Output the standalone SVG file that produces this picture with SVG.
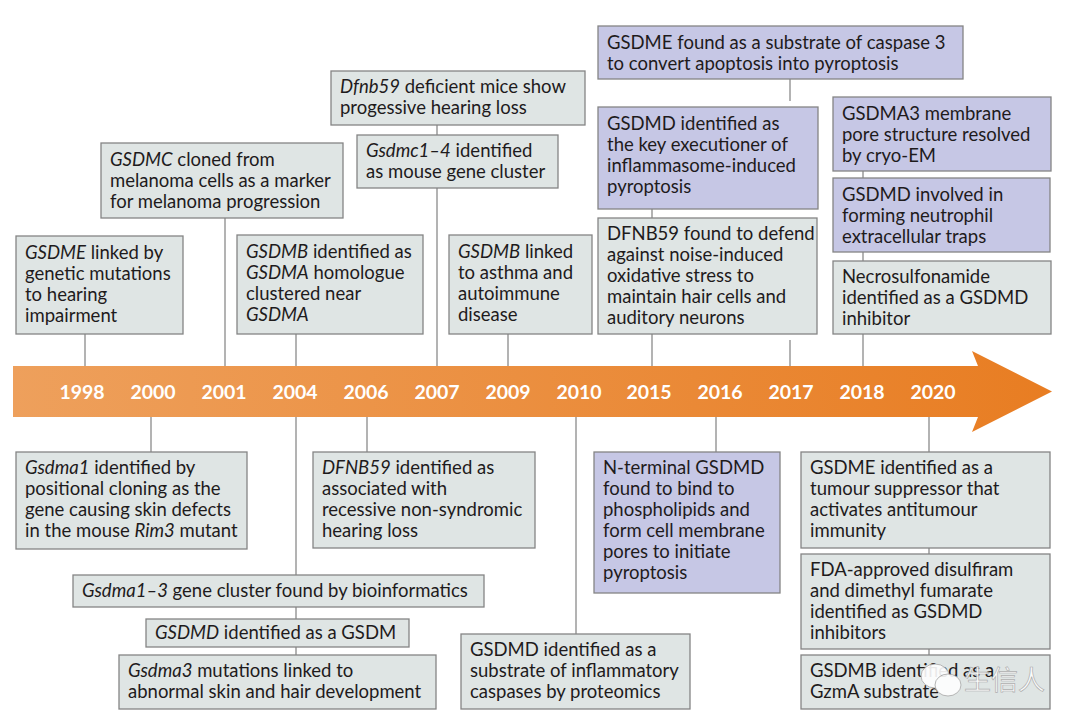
<svg xmlns="http://www.w3.org/2000/svg" width="1080" height="728" viewBox="0 0 1080 728">
<style>
.g{fill:#dfe5e4;stroke:#858585;stroke-width:1.3}
.p{fill:#c6c7e5;stroke:#858585;stroke-width:1.3}
.t{font-family:Lato,"Liberation Sans",sans-serif;font-size:18.5px;fill:#1e1b1c}
.i{font-style:italic}
.yr{font-family:Lato,"Liberation Sans",sans-serif;font-size:19.5px;font-weight:bold;fill:#ffffff;text-anchor:middle}
.c line{stroke:#8a8a8a;stroke-width:1.3}
.wm{font-family:"Noto Sans CJK SC",sans-serif;font-size:27px;fill:#ffffff;stroke:#a8a8a8;stroke-width:0.7}
</style>
<defs>
<linearGradient id="ag" x1="0" y1="0" x2="1" y2="0">
<stop offset="0" stop-color="#eea05c"/>
<stop offset="1" stop-color="#e87d22"/>
</linearGradient>
</defs>
<rect width="1080" height="728" fill="#ffffff"/>

<g id="timeline">
<polygon points="13,366 978,366 972,351 1052,391.5 972,432 978,417 13,417" fill="url(#ag)"/>
<text class="yr" x="82" y="399">1998</text>
<text class="yr" x="153" y="399">2000</text>
<text class="yr" x="224" y="399">2001</text>
<text class="yr" x="295" y="399">2004</text>
<text class="yr" x="366" y="399">2006</text>
<text class="yr" x="437" y="399">2007</text>
<text class="yr" x="508" y="399">2009</text>
<text class="yr" x="579" y="399">2010</text>
<text class="yr" x="649" y="399">2015</text>
<text class="yr" x="720" y="399">2016</text>
<text class="yr" x="791" y="399">2017</text>
<text class="yr" x="862" y="399">2018</text>
<text class="yr" x="933" y="399">2020</text>
</g>

<g id="connectors" class="c">
<line x1="85" y1="334" x2="85" y2="366"/>
<line x1="225" y1="218" x2="225" y2="366"/>
<line x1="296" y1="334" x2="296" y2="366"/>
<line x1="437" y1="125" x2="437" y2="135"/>
<line x1="437" y1="188" x2="437" y2="366"/>
<line x1="508" y1="334" x2="508" y2="366"/>
<line x1="790" y1="79" x2="790" y2="101"/>
<line x1="652" y1="209" x2="652" y2="218"/>
<line x1="652" y1="334" x2="652" y2="366"/>
<line x1="790" y1="340" x2="790" y2="366"/>
<line x1="863" y1="171" x2="863" y2="178"/>
<line x1="863" y1="252" x2="863" y2="261"/>
<line x1="863" y1="334" x2="863" y2="366"/>
<line x1="151" y1="417" x2="151" y2="452"/>
<line x1="296" y1="417" x2="296" y2="575"/>
<line x1="296" y1="607" x2="296" y2="619"/>
<line x1="296" y1="647" x2="296" y2="655"/>
<line x1="367" y1="417" x2="367" y2="452"/>
<line x1="576" y1="417" x2="576" y2="634"/>
<line x1="716" y1="417" x2="716" y2="452"/>
<line x1="929" y1="417" x2="929" y2="452"/>
<line x1="929" y1="548" x2="929" y2="554"/>
<line x1="929" y1="649" x2="929" y2="655"/>
</g>

<g id="n1998">
<rect class="g" x="16" y="236" width="167" height="98"/>
<text class="t" x="25" y="259"><tspan class="i">GSDME</tspan> linked by<tspan x="25" dy="21">genetic mutations</tspan><tspan x="25" dy="21">to hearing</tspan><tspan x="25" dy="21">impairment</tspan></text>
</g>
<g id="n2001">
<rect class="g" x="101" y="143" width="242" height="75"/>
<text class="t" x="110" y="166"><tspan class="i">GSDMC</tspan> cloned from<tspan x="110" dy="21">melanoma cells as a marker</tspan><tspan x="110" dy="21">for melanoma progression</tspan></text>
</g>
<g id="n2004a">
<rect class="g" x="237" y="235" width="186" height="99"/>
<text class="t" x="246" y="258"><tspan class="i">GSDMB</tspan> identified as<tspan x="246" dy="21" class="i">GSDMA</tspan><tspan> homologue</tspan><tspan x="246" dy="21">clustered near</tspan><tspan x="246" dy="21" class="i">GSDMA</tspan></text>
</g>
<g id="n2007a">
<rect class="g" x="331" y="71" width="254" height="54"/>
<text class="t" x="340" y="93"><tspan class="i">Dfnb59</tspan> deficient mice show<tspan x="340" dy="21">progessive hearing loss</tspan></text>
</g>
<g id="n2007b">
<rect class="g" x="357" y="135" width="201" height="53"/>
<text class="t" x="366" y="157"><tspan class="i">Gsdmc1–4</tspan> identified<tspan x="366" dy="21">as mouse gene cluster</tspan></text>
</g>
<g id="n2009">
<rect class="g" x="449" y="235" width="143" height="99"/>
<text class="t" x="458" y="258"><tspan class="i">GSDMB</tspan> linked<tspan x="458" dy="21">to asthma and</tspan><tspan x="458" dy="21">autoimmune</tspan><tspan x="458" dy="21">disease</tspan></text>
</g>
<g id="n2017a">
<rect class="p" x="598" y="26" width="365" height="53"/>
<text class="t" x="607" y="49">GSDME found as a substrate of caspase 3<tspan x="607" dy="21">to convert apoptosis into pyroptosis</tspan></text>
</g>
<g id="n2015a">
<rect class="p" x="598" y="107" width="220" height="102"/>
<text class="t" x="607" y="130">GSDMD identified as<tspan x="607" dy="21">the key executioner of</tspan><tspan x="607" dy="21">inflammasome-induced</tspan><tspan x="607" dy="21">pyroptosis</tspan></text>
</g>
<g id="n2015b">
<rect class="g" x="598" y="218" width="219" height="116"/>
<text class="t" x="607" y="240">DFNB59 found to defend<tspan x="607" dy="21">against noise-induced</tspan><tspan x="607" dy="21">oxidative stress to</tspan><tspan x="607" dy="21">maintain hair cells and</tspan><tspan x="607" dy="21">auditory neurons</tspan></text>
</g>
<g id="n2018a">
<rect class="p" x="833" y="97" width="218" height="74"/>
<text class="t" x="842" y="120">GSDMA3 membrane<tspan x="842" dy="21">pore structure resolved</tspan><tspan x="842" dy="21">by cryo-EM</tspan></text>
</g>
<g id="n2018b">
<rect class="p" x="833" y="178" width="217" height="74"/>
<text class="t" x="842" y="201">GSDMD involved in<tspan x="842" dy="21">forming neutrophil</tspan><tspan x="842" dy="21">extracellular traps</tspan></text>
</g>
<g id="n2018c">
<rect class="g" x="833" y="261" width="218" height="73"/>
<text class="t" x="842" y="283">Necrosulfonamide<tspan x="842" dy="21">identified as a GSDMD</tspan><tspan x="842" dy="21">inhibitor</tspan></text>
</g>

<g id="n2000">
<rect class="g" x="16" y="452" width="231" height="97"/>
<text class="t" x="25" y="474"><tspan class="i">Gsdma1</tspan> identified by<tspan x="25" dy="21">positional cloning as the</tspan><tspan x="25" dy="21">gene causing skin defects</tspan><tspan x="25" dy="21">in the mouse </tspan><tspan class="i">Rim3</tspan><tspan> mutant</tspan></text>
</g>
<g id="n2006">
<rect class="g" x="313" y="452" width="222" height="96"/>
<text class="t" x="322" y="474"><tspan class="i">DFNB59</tspan> identified as<tspan x="322" dy="21">associated with</tspan><tspan x="322" dy="21">recessive non-syndromic</tspan><tspan x="322" dy="21">hearing loss</tspan></text>
</g>
<g id="n2004b">
<rect class="g" x="73" y="575" width="411" height="32"/>
<text class="t" x="82" y="597"><tspan class="i">Gsdma1–3</tspan> gene cluster found by bioinformatics</text>
</g>
<g id="n2004c">
<rect class="g" x="146" y="619" width="263" height="28"/>
<text class="t" x="155" y="639"><tspan class="i">GSDMD</tspan> identified as a GSDM</text>
</g>
<g id="n2004d">
<rect class="g" x="119" y="655" width="317" height="54"/>
<text class="t" x="128" y="677"><tspan class="i">Gsdma3</tspan> mutations linked to<tspan x="128" dy="21">abnormal skin and hair development</tspan></text>
</g>
<g id="n2010">
<rect class="g" x="461" y="634" width="229" height="75"/>
<text class="t" x="470" y="656">GSDMD identified as a<tspan x="470" dy="21">substrate of inflammatory</tspan><tspan x="470" dy="21">caspases by proteomics</tspan></text>
</g>
<g id="n2016">
<rect class="p" x="594" y="452" width="186" height="141"/>
<text class="t" x="603" y="474">N-terminal GSDMD<tspan x="603" dy="21">found to bind to</tspan><tspan x="603" dy="21">phospholipids and</tspan><tspan x="603" dy="21">form cell membrane</tspan><tspan x="603" dy="21">pores to initiate</tspan><tspan x="603" dy="21">pyroptosis</tspan></text>
</g>
<g id="n2020a">
<rect class="g" x="801" y="452" width="249" height="96"/>
<text class="t" x="810" y="474">GSDME identified as a<tspan x="810" dy="21">tumour suppressor that</tspan><tspan x="810" dy="21">activates antitumour</tspan><tspan x="810" dy="21">immunity</tspan></text>
</g>
<g id="n2020b">
<rect class="g" x="801" y="554" width="249" height="95"/>
<text class="t" x="810" y="576">FDA-approved disulfiram<tspan x="810" dy="21">and dimethyl fumarate</tspan><tspan x="810" dy="21">identified as GSDMD</tspan><tspan x="810" dy="21">inhibitors</tspan></text>
</g>
<g id="n2020c">
<rect class="g" x="801" y="655" width="249" height="54"/>
<text class="t" x="810" y="677">GSDMB identified as a<tspan x="810" dy="21">GzmA substrate</tspan></text>
</g>

<g id="watermark" opacity="0.9">
<ellipse cx="935" cy="676" rx="14" ry="12" fill="#ffffff" stroke="#b0b0b0" stroke-width="1"/>
<ellipse cx="948" cy="685" rx="13" ry="11" fill="#ffffff" stroke="#b0b0b0" stroke-width="1"/>
<text class="wm" x="964" y="690">生信人</text>
</g>
</svg>
